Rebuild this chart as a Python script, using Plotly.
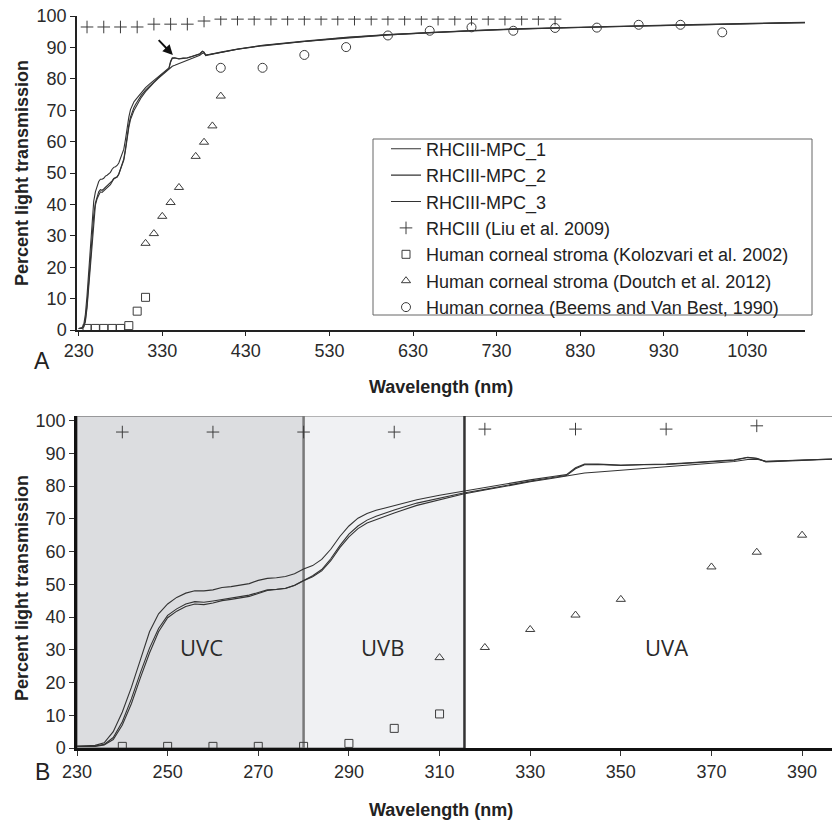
import plotly.graph_objects as go

# ---------------- data ----------------
wl = [230, 232, 234, 236, 238, 240, 242, 244, 246, 248, 250, 252, 254, 256, 258, 260,
      262, 264, 266, 268, 270, 272, 274, 276, 278, 280, 282, 284, 286, 288, 290, 292,
      294, 296, 298, 300, 305, 310, 315, 320, 325, 330, 335, 338, 340, 342, 345, 350,
      355, 360, 365, 370, 375, 378, 380, 382, 385, 390, 395, 400, 420, 450, 500, 550,
      600, 650, 700, 750, 800, 850, 900, 950, 1000, 1050, 1100]

mpc_1 = [0.5, 0.6, 0.8, 1.6, 5, 11, 18.5, 27, 35.5, 41, 44, 46, 47.3, 48, 48, 48.3,
         49, 49.3, 49.7, 50.2, 51.2, 51.8, 52, 52.4, 53.2, 54.7, 55.7, 57.6, 60.7, 64.6, 67.8, 70.2,
         71.6, 72.6, 73.3, 74, 75.8, 77.2, 78.4, 79.5, 80.8, 81.9, 82.9, 83.5, 85.6, 86.7, 86.7, 86.4,
         86.6, 86.7, 87.1, 87.5, 88, 88.8, 88.5, 87.5, 87.7, 88, 88.3, 88.5, 89.5, 90.7, 92, 93.2,
         94.1, 94.8, 95.4, 95.9, 96.3, 96.6, 96.9, 97.2, 97.4, 97.7, 98]

mpc_2 = [0.5, 0.5, 0.6, 1.1, 3.2, 8, 15, 23, 30.5, 36.5, 40.5, 42.5, 44, 44.7, 44.5, 44.9,
         45.4, 45.8, 46.2, 46.7, 47.5, 48.3, 48.5, 48.8, 49.7, 51.2, 52.6, 54.5, 57.8, 61.8, 65.3, 67.8,
         69.6, 70.8, 71.8, 72.7, 74.8, 76.4, 77.8, 79, 80.3, 81.5, 82.6, 83.2, 85.3, 86.5, 86.6, 86.3,
         86.5, 86.6, 87, 87.4, 87.9, 88.7, 88.4, 87.4, 87.6, 87.9, 88.2, 88.4, 89.4, 90.6, 91.9, 93.1,
         94, 94.7, 95.3, 95.8, 96.2, 96.5, 96.8, 97.1, 97.3, 97.6, 97.9]

mpc_3 = [0.5, 0.5, 0.5, 0.9, 2.6, 7, 13.5, 21.5, 29, 35.5, 39.8, 41.8, 43.2, 44, 43.8, 44.3,
         45, 45.4, 45.8, 46.3, 47.2, 48.1, 48.4, 48.7, 49.6, 51.1, 52.3, 54.1, 57.2, 61.2, 64.5, 67,
         68.7, 69.8, 70.8, 71.8, 74.1, 75.9, 77.5, 78.8, 80.1, 81.3, 82.4, 83, 83.6, 84, 84.3, 84.8,
         85.4, 85.9, 86.5, 87, 87.5, 88.1, 88.2, 87.6, 87.7, 87.9, 88.2, 88.4, 89.4, 90.5, 91.9, 93,
         94, 94.7, 95.3, 95.8, 96.2, 96.5, 96.8, 97.1, 97.3, 97.6, 97.9]

liu_wl = [240, 260, 280, 300, 320, 340, 360, 380, 400, 420, 440, 460, 480, 500, 520,
          540, 560, 580, 600, 620, 640, 660, 680, 700, 720, 740, 760, 780, 800]
liu_t = [96.5, 96.5, 96.5, 96.5, 97.4, 97.4, 97.4, 98.4, 99, 99, 99, 99, 99, 99, 99,
         99, 99, 99, 99, 99, 99, 99, 99, 99, 99, 99, 99, 99, 99]

kol_wl = [240, 250, 260, 270, 280, 290, 300, 310]
kol_t = [0.5, 0.5, 0.5, 0.5, 0.5, 1.4, 6, 10.4]

dou_wl = [310, 320, 330, 340, 350, 370, 380, 390, 400]
dou_t = [27.6, 30.7, 36.2, 40.6, 45.4, 55.3, 59.8, 65, 74.5]

bee_wl = [400, 450, 500, 550, 600, 650, 700, 750, 800, 850, 900, 950, 1000]
bee_t = [83.5, 83.5, 87.6, 90.1, 93.8, 95.3, 96.4, 95.3, 96.2, 96.3, 97.2, 97.2, 94.8]

series_names = ["RHCIII-MPC_1", "RHCIII-MPC_2", "RHCIII-MPC_3",
                "RHCIII (Liu et al. 2009)",
                "Human corneal stroma (Kolozvari et al. 2002)",
                "Human corneal stroma (Doutch et al. 2012)",
                "Human cornea (Beems and Van Best, 1990)"]

top_ticks = [230, 330, 430, 530, 630, 730, 830, 930, 1030]
bot_ticks = [230, 250, 270, 290, 310, 330, 350, 370, 390]
y_ticks = [0, 10, 20, 30, 40, 50, 60, 70, 80, 90, 100]

# ---------------- figure ----------------
FONT = "Liberation Sans, Arial, sans-serif"
LINE_C = "#333333"
MK_C = "#3c3c3c"

fig = go.Figure()

curves = [mpc_1, mpc_2, mpc_3]
markers = [
    (liu_wl, liu_t, "cross-thin-open", 9),
    (kol_wl, kol_t, "square-open", 8),
    (dou_wl, dou_t, "triangle-up-open", 8),
    (bee_wl, bee_t, "circle-open", 9),
]

for panel, (xa, ya) in enumerate([("x", "y"), ("x2", "y2")]):
    show = panel == 0
    for i, c in enumerate(curves):
        fig.add_trace(go.Scatter(
            x=wl, y=c, mode="lines", name=series_names[i], showlegend=show,
            line=dict(color=LINE_C, width=1.1), xaxis=xa, yaxis=ya, cliponaxis=True))
    for j, (mx, my, sym, sz) in enumerate(markers):
        fig.add_trace(go.Scatter(
            x=mx, y=my, mode="markers", name=series_names[3 + j], showlegend=show,
            marker=dict(symbol=sym, size=sz, color=MK_C,
                        line=dict(color=MK_C, width=1)),
            xaxis=xa, yaxis=ya, cliponaxis=True))

axis_common = dict(
    showgrid=False, zeroline=False, showline=True, automargin=False,
    ticklabeloverflow="allow",
    ticks="outside", tickfont=dict(family=FONT, size=18, color="#2a2a2a"),
)

# body margin is removed by the post script, so figure == window
OFF = 0
W, H = 832 - OFF, 821 - OFF
ML, MR, MT = 77 - OFF, 0, 16 - OFF
MB = H - (748 - OFF)
PW, PH = W - ML - MR, H - MT - MB


def px(xs):
    return (xs - OFF - ML) / PW


def py(ys):
    return (H - MB - (ys - OFF)) / PH


fig.update_layout(
    width=W, height=H,
    margin=dict(l=ML, r=MR, t=MT, b=MB, autoexpand=False),
    paper_bgcolor="white", plot_bgcolor="rgba(0,0,0,0)",
    font=dict(family=FONT, color="#222"),
    xaxis=dict(axis_common, domain=[0, px(805)], range=[228, 1099], anchor="y",
               tickvals=top_ticks, ticklen=4, linecolor="#222", linewidth=1.5,
               tickcolor="#222"),
    yaxis=dict(axis_common, domain=[py(330), 1], range=[0, 100], anchor="x",
               tickvals=y_ticks, ticklen=5, linecolor="#222", linewidth=1.5,
               tickcolor="#222"),
    xaxis2=dict(axis_common, domain=[0, 1], range=[230, 396.6], anchor="y2",
                tickvals=bot_ticks, ticklen=5, linecolor="#111", linewidth=3,
                tickcolor="#333"),
    yaxis2=dict(axis_common, domain=[0, py(416)], range=[0, 101.4], anchor="x2",
                tickvals=y_ticks, ticklen=5, linecolor="#111", linewidth=2.5,
                tickcolor="#333"),
    legend=dict(x=px(386), y=py(130.5), xanchor="left", yanchor="top",
                font=dict(family=FONT, size=18, color="#222"),
                bgcolor="rgba(0,0,0,0)", borderwidth=0, tracegroupgap=0),
)

# bottom panel UV bands
fig.add_shape(type="rect", xref="x2", yref="y2", x0=230, x1=280, y0=0, y1=101.4,
              fillcolor="#dcdde0", line=dict(color="#555", width=1), layer="below")
fig.add_shape(type="rect", xref="x2", yref="y2", x0=280, x1=315.5, y0=0, y1=101.4,
              fillcolor="#f0f1f3", line=dict(color="#777", width=1), layer="below")
fig.add_shape(type="line", xref="x2", yref="y2", x0=315.5, x1=396.6, y0=101.4, y1=101.4,
              line=dict(color="#999", width=2), layer="below")
fig.add_shape(type="line", xref="x2", yref="y2", x0=280, x1=280, y0=0, y1=101.4,
              line=dict(color="#7a7a7a", width=2.5), layer="below")
fig.add_shape(type="line", xref="x2", yref="y2", x0=315.5, x1=315.5, y0=0, y1=101.4,
              line=dict(color="#333", width=2.5), layer="below")

# legend frame
fig.add_shape(type="rect", xref="paper", yref="paper", x0=px(373), x1=px(812),
              y0=py(315), y1=py(139), line=dict(color="#666", width=1),
              fillcolor="rgba(0,0,0,0)", layer="below")

# band labels
for txt, xv in [("UVC", 257.5), ("UVB", 297.5), ("UVA", 360)]:
    fig.add_annotation(x=xv, y=31, xref="x2", yref="y2", text=txt, showarrow=False,
                       xanchor="center", yanchor="middle",
                       font=dict(family="Open Sans, Noto Sans, sans-serif", size=22, color="#2a2a2a"))

# arrow in panel A
fig.add_annotation(x=342.7, y=87.6, ax=324, ay=92.8, xref="x", yref="y",
                   axref="x", ayref="y", showarrow=True, arrowhead=2, arrowsize=1,
                   arrowwidth=2, arrowcolor="#111", text="")

# axis titles
for yy in [py(173), py(588)]:
    fig.add_annotation(x=px(22), y=yy, xref="paper", yref="paper",
                       xanchor="center", yanchor="middle",
                       text="<b>Percent light transmission</b>", textangle=-90,
                       showarrow=False, font=dict(family=FONT, size=18, color="#222"))
for yy in [py(387), py(810)]:
    fig.add_annotation(x=px(441), y=yy, xref="paper", yref="paper",
                       xanchor="center", yanchor="middle",
                       text="<b>Wavelength (nm)</b>", showarrow=False,
                       font=dict(family=FONT, size=18, color="#222"))

# panel letters
fig.add_annotation(x=px(42), y=py(361), xref="paper", yref="paper", text="A",
                   xanchor="center", yanchor="middle",
                   showarrow=False, font=dict(family=FONT, size=23, color="#222"))
fig.add_annotation(x=px(42), y=py(772), xref="paper", yref="paper", text="B",
                   xanchor="center", yanchor="middle",
                   showarrow=False, font=dict(family=FONT, size=23, color="#222"))

fig.write_html("out.html", config={"displayModeBar": False},
               post_script="document.body.style.margin='0';document.body.style.overflow='hidden';")
